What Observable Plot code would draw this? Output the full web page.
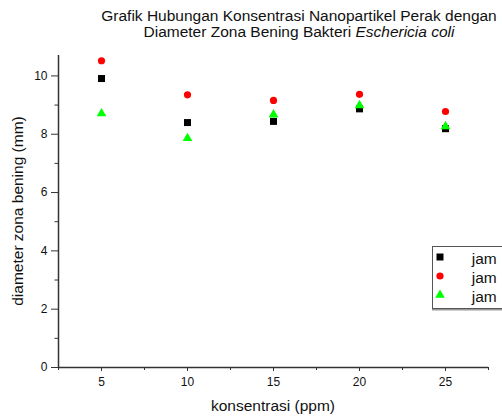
<!DOCTYPE html>
<html>
<head>
<meta charset="utf-8">
<script src="https://cdn.jsdelivr.net/npm/d3@7"></script>
<script src="https://cdn.jsdelivr.net/npm/@observablehq/plot@0.6"></script>
<style>
  html, body { margin: 0; padding: 0; background: #fff; overflow: hidden; }
  #wrap { position: relative; width: 502px; height: 417px; overflow: hidden; font-family: "Liberation Sans", Arial, sans-serif; color: #111; }
  #wrap svg { position: absolute; left: 0; top: 0; }
  .ov { position: absolute; white-space: nowrap; }
  #title { left: 99px; width: 400px; top: 7.6px; text-align: center; font-size: 15.5px; line-height: 16px; }
  #xlab { left: 58px; width: 430px; top: 398px; text-align: center; font-size: 15.5px; line-height: 15.5px; }
  #ylab { left: -138.4px; width: 312px; top: 203px; text-align: center; font-size: 15.5px; line-height: 16px; transform: rotate(-90deg); transform-origin: 50% 50%; }
  #legend { left: 431.7px; top: 245.7px; width: 110px; height: 61px; border: 1px solid #555; box-shadow: 0 1.5px 0 #999; background: #fff; }
  .row { position: absolute; left: 0; height: 18px; font-size: 15.5px; line-height: 18px; }
  .row svg { position: absolute; left: 10px; top: 2px; }
  .row span { position: absolute; left: 39px; top: 0; }
</style>
</head>
<body>
<div id="wrap">
  <div id="title" class="ov">Grafik Hubungan Konsentrasi Nanopartikel Perak dengan<br>Diameter Zona Bening Bakteri <i>Eschericia coli</i></div>
  <div id="xlab" class="ov"></div>
  <div id="ylab" class="ov"></div>
  <div id="legend" class="ov"></div>
</div>
<script>
// Data
const konsentrasi = [5, 10, 15, 20, 25];
const jam1 = [9.91, 8.40, 8.44, 8.87, 8.19];    // black squares
const jam2 = [10.52, 9.35, 9.16, 9.37, 8.78];   // red circles
const jam3 = [8.71, 7.86, 8.67, 8.99, 8.27];    // green triangles
const seriesNames = ["jam", "jam", "jam"];
const xTicks = [5, 10, 15, 20, 25];
const xMinorTicks = [2.5, 7.5, 12.5, 17.5, 22.5, 27.5];
const yTicks = [0, 2, 4, 6, 8, 10];
const yMinorTicks = [1, 3, 5, 7, 9];
const xLabel = "konsentrasi (ppm)";
const yLabel = "diameter zona bening (mm)";

const rows = (ys) => konsentrasi.map((k, i) => ({x: k, y: ys[i]}));

const axisColor = "#333";
const chart = Plot.plot({
  width: 502,
  height: 417,
  marginLeft: 58,
  marginRight: 14,
  marginTop: 55,
  marginBottom: 50,
  style: {fontFamily: "Liberation Sans, Arial, sans-serif", background: "transparent"},
  x: {domain: [2.5, 27.5]},
  y: {domain: [0, 10.7]},
  marks: [
    Plot.axisX({ticks: xTicks, tickSize: 4, tickPadding: 6, fontSize: 12, stroke: axisColor, fill: "#111", label: null}),
    Plot.axisX({ticks: xMinorTicks, tickSize: 3, text: null, stroke: axisColor, label: null}),
    Plot.axisY({ticks: yTicks, tickSize: 7, tickPadding: 4, fontSize: 12, stroke: axisColor, fill: "#111", label: null}),
    Plot.axisY({ticks: yMinorTicks, tickSize: 3.5, text: null, stroke: axisColor, label: null}),
    Plot.ruleX([2.5], {stroke: axisColor, strokeWidth: 1.5}),
    Plot.ruleY([0], {stroke: axisColor, strokeWidth: 1.5}),
    Plot.dot(rows(jam1), {x: "x", y: "y", symbol: "square", r: 3.95, fill: "#000", stroke: "none"}),
    Plot.dot(rows(jam2), {x: "x", y: "y", symbol: "circle", r: 3.6, fill: "#ff0000", stroke: "none"}),
    Plot.dot(rows(jam3), {x: "x", y: "y", symbol: "triangle", r: 3.6, fill: "#00ff00", stroke: "none"})
  ]
});
document.getElementById("wrap").prepend(chart);

document.getElementById("xlab").textContent = xLabel;
document.getElementById("ylab").textContent = yLabel;

// Legend
const legend = document.getElementById("legend");
const legendSymbols = [
  {type: d3.symbolSquare, size: Math.PI * 3.95 * 3.95, color: "#000"},
  {type: d3.symbolCircle, size: Math.PI * 3.6 * 3.6, color: "#ff0000"},
  {type: d3.symbolTriangle, size: Math.PI * 3.6 * 3.6, color: "#00ff00"}
];
const rowTops = [3.6, 22.6, 41];
seriesNames.forEach((name, i) => {
  const row = document.createElement("div");
  row.className = "row";
  row.style.top = rowTops[i] + "px";
  row.style.width = "110px";
  const svg = d3.create("svg").attr("width", 14).attr("height", 14);
  svg.append("path")
    .attr("transform", "translate(7,7)")
    .attr("d", d3.symbol(legendSymbols[i].type, legendSymbols[i].size)())
    .attr("fill", legendSymbols[i].color);
  row.appendChild(svg.node());
  const span = document.createElement("span");
  span.textContent = name;
  row.appendChild(span);
  legend.appendChild(row);
});
</script>
</body>
</html>
